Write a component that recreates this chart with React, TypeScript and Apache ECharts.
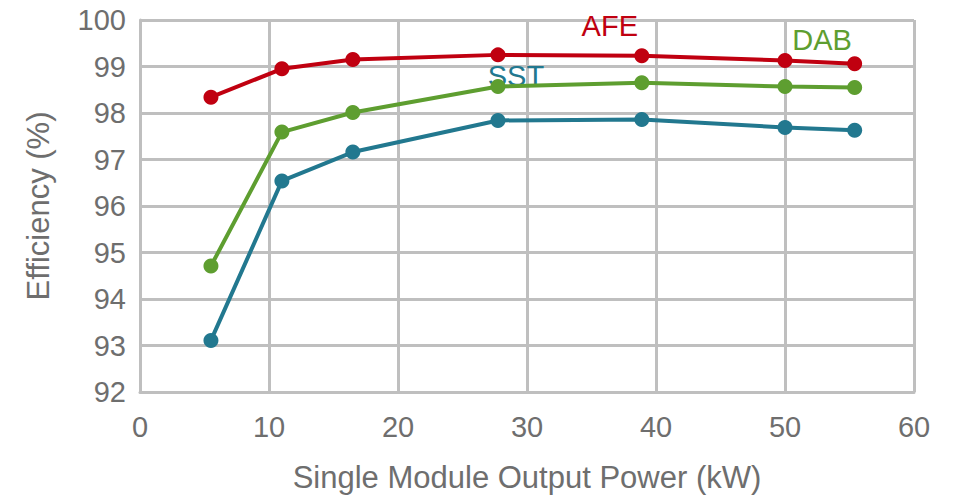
import React, { useEffect, useRef } from "react";
import * as echarts from "echarts";

const powerKW = [5.5, 11.0, 16.5, 27.75, 38.9, 50.0, 55.4];
const afe = [98.34, 98.95, 99.15, 99.25, 99.23, 99.13, 99.06];
const dab = [94.71, 97.59, 98.01, 98.57, 98.65, 98.57, 98.55];
const sst = [93.11, 96.54, 97.16, 97.84, 97.86, 97.69, 97.63];
const seriesNames = ["AFE", "DAB", "SST"];
const xTicks = { min: 0, max: 60, interval: 10 };
const yTicks = { min: 92, max: 100, interval: 1 };

const colors = ["#C00010", "#5E9E30", "#22788F"];
const labelSpecs = [
  { idx: 4, offset: [-32, -3] },
  { idx: 5, offset: [37, -19] },
  { idx: 3, offset: [18, -17] },
];

export default function App() {
  const ref = useRef<HTMLDivElement>(null);
  useEffect(() => {
    const chart = echarts.init(ref.current!, undefined, { renderer: "svg" });
    const all = [afe, dab, sst];
    const font = "'Liberation Sans', Arial, sans-serif";
    const series = all.map((vals, s) => ({
      name: seriesNames[s],
      type: "line",
      data: vals.map((v, i) => {
        const item: any = { value: [powerKW[i], v] };
        if (i === labelSpecs[s].idx) {
          item.label = {
            show: true,
            formatter: seriesNames[s],
            position: "top",
            offset: labelSpecs[s].offset,
            color: colors[s],
            fontSize: 29,
            fontFamily: font,
          };
        }
        return item;
      }),
      symbol: "circle",
      symbolSize: 15,
      lineStyle: { width: 4, color: colors[s] },
      itemStyle: { color: colors[s] },
      z: 10 - s,
    }));
    chart.setOption({
      animation: false,
      backgroundColor: "#fff",
      grid: { left: 140, right: 44, top: 20, bottom: 103 },
      xAxis: {
        type: "value",
        ...xTicks,
        name: "Single Module Output Power (kW)",
        nameLocation: "middle",
        nameGap: 70,
        nameTextStyle: { color: "#6e6e6e", fontSize: 31, fontFamily: font },
        axisLine: { show: true, lineStyle: { color: "#bfbfbf", width: 3 } },
        axisTick: { show: false },
        axisLabel: { color: "#6e6e6e", fontSize: 29, fontFamily: font, margin: 20 },
        splitLine: { show: true, lineStyle: { color: "#bfbfbf", width: 3 } },
      },
      yAxis: {
        type: "value",
        ...yTicks,
        name: "Efficiency (%)",
        nameLocation: "middle",
        nameGap: 86,
        nameTextStyle: { color: "#6e6e6e", fontSize: 31, fontFamily: font },
        axisLine: { show: true, lineStyle: { color: "#bfbfbf", width: 3 } },
        axisTick: { show: false },
        axisLabel: { color: "#6e6e6e", fontSize: 29, fontFamily: font, margin: 14 },
        splitLine: { show: true, lineStyle: { color: "#bfbfbf", width: 3 } },
      },
      series,
    });
    return () => chart.dispose();
  }, []);
  return <div ref={ref} style={{ width: 958, height: 498, position: "absolute", left: 0, top: 0 }} />;
}
